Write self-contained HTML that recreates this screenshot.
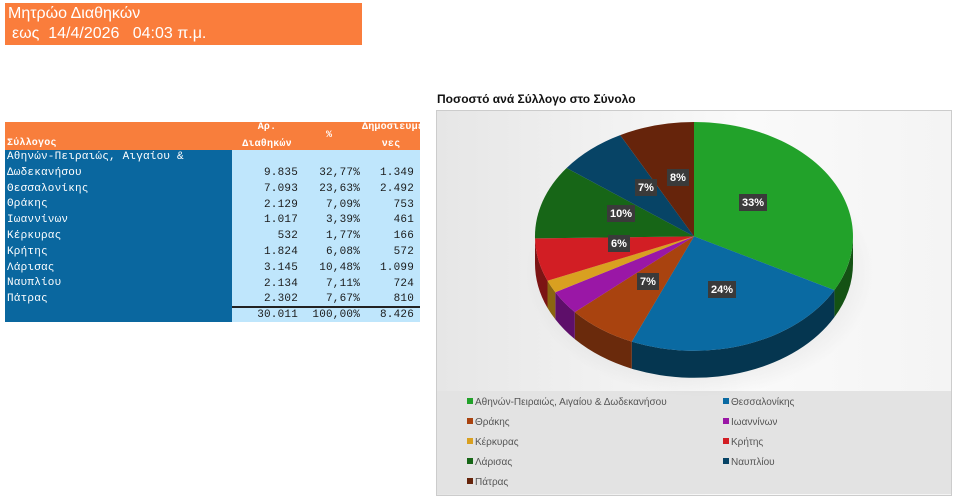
<!DOCTYPE html>
<html><head><meta charset="utf-8"><style>
body{margin:0;width:960px;height:503px;background:#fff;position:relative;overflow:hidden;font-family:"Liberation Sans",sans-serif}
.hdr{position:absolute;left:5px;top:3px;width:357px;height:42px;background:#fa7d3c;color:#fff;font-size:16px;line-height:20px}
.t{position:absolute;font-family:"Liberation Mono",monospace;font-size:11px;color:#1a1a1a;white-space:pre;letter-spacing:0.2px}
.w{color:#fff}
.h{color:#fff;font-weight:bold;font-size:10px;line-height:17px}
</style></head><body>
<div class="hdr"><div style="padding-left:3px;margin-top:1px">Μητρώο Διαθηκών</div><div style="padding-left:7px">εως&nbsp; 14/4/2026&nbsp;&nbsp; 04:03 π.μ.</div></div>

<div style="position:absolute;left:5px;top:122px;width:415px;height:28px;background:#f87e3c"></div>
<div style="position:absolute;left:5px;top:150px;width:227px;height:172px;background:#0a679f"></div>
<div style="position:absolute;left:232px;top:150px;width:188px;height:172px;background:#bfe6fc"></div>
<div style="position:absolute;left:232px;top:306px;width:188px;height:2px;background:#222"></div>
<div class="t h" style="left:7px;top:135px">Σύλλογος</div>
<div class="t h" style="left:236px;top:119px;width:62px;text-align:center">Αρ.
Διαθηκών</div>
<div class="t h" style="left:326px;top:127px">%</div>
<div class="t h" style="left:362px;top:119px;width:58px;text-align:center">Δημοσιευμέ
νες</div>
<div class="t w" style="left:7px;top:150px;line-height:15.8px">Αθηνών-Πειραιώς, Αιγαίου &amp;
Δωδεκανήσου
Θεσσαλονίκης
Θράκης
Ιωαννίνων
Κέρκυρας
Κρήτης
Λάρισας
Ναυπλίου
Πάτρας</div>
<div class="t" style="left:232px;top:166px;width:66px;text-align:right;line-height:15.8px">9.835
7.093
2.129
1.017
532
1.824
3.145
2.134
2.302
30.011</div>
<div class="t" style="left:298px;top:166px;width:62px;text-align:right;line-height:15.8px">32,77%
23,63%
7,09%
3,39%
1,77%
6,08%
10,48%
7,11%
7,67%
100,00%</div>
<div class="t" style="left:360px;top:166px;width:54px;text-align:right;line-height:15.8px">1.349
2.492
753
461
166
572
1.099
724
810
8.426</div>

<div style="position:absolute;left:437px;top:92px;width:200px;font-size:12px;font-weight:bold;color:#111">Ποσοστό ανά Σύλλογο στο Σύνολο</div>
<div style="position:absolute;left:436px;top:110px;width:514px;height:384px;border:1px solid #ccc;background:linear-gradient(90deg,#e6e6e6,#fafafa 60%,#f4f4f4)"></div>
<div style="position:absolute;left:437px;top:391px;width:514px;height:103px;background:#e3e3e3"></div>
<svg style="position:absolute;left:0;top:0" width="960" height="503">
<defs><radialGradient id="sh"><stop offset="0" stop-color="#000" stop-opacity=".25"/><stop offset="1" stop-color="#000" stop-opacity="0"/></radialGradient></defs>
<ellipse cx="700" cy="272" rx="175" ry="125" fill="url(#sh)"/>
<g transform="translate(0,122) scale(1,1.04) translate(0,-122)">
<g>
<path d="M853,232 A159,110 0 0 1 834.4,283.6 L834.4,309.6 A159,110 0 0 0 853,258Z" fill="#145214"/>
<path d="M834.4,283.6 A159,110 0 0 1 631.8,333.2 L631.8,359.2 A159,110 0 0 0 834.4,309.6Z" fill="#053650"/>
<path d="M631.8,333.2 A159,110 0 0 1 574.8,304.8 L574.8,330.8 A159,110 0 0 0 631.8,359.2Z" fill="#6a2a0c"/>
<path d="M574.8,304.8 A159,110 0 0 1 555.3,285.7 L555.3,311.7 A159,110 0 0 0 574.8,330.8Z" fill="#5e0f6a"/>
<path d="M555.3,285.7 A159,110 0 0 1 547.5,274.7 L547.5,300.7 A159,110 0 0 0 555.3,311.7Z" fill="#8a6510"/>
<path d="M547.5,274.7 A159,110 0 0 1 535,232 L535,258 A159,110 0 0 0 547.5,300.7Z" fill="#7c1414"/>
</g>
<g>
<path d="M694,232 L694,122 A159,110 0 0 1 834.4,283.6Z" fill="#22a22a"/>
<path d="M694,232 L834.4,283.6 A159,110 0 0 1 631.8,333.2Z" fill="#0a6aa2"/>
<path d="M694,232 L631.8,333.2 A159,110 0 0 1 574.8,304.8Z" fill="#a9430f"/>
<path d="M694,232 L574.8,304.8 A159,110 0 0 1 555.3,285.7Z" fill="#9a17a6"/>
<path d="M694,232 L555.3,285.7 A159,110 0 0 1 547.5,274.7Z" fill="#d9a020"/>
<path d="M694,232 L547.5,274.7 A159,110 0 0 1 535,233.9Z" fill="#d21e24"/>
<path d="M694,232 L535,233.9 A159,110 0 0 1 566.6,166.2Z" fill="#176617"/>
<path d="M694,232 L566.6,166.2 A159,110 0 0 1 620.2,134.6Z" fill="#074466"/>
<path d="M694,232 L620.2,134.6 A159,110 0 0 1 694,122Z" fill="#66240b"/>
</g>
</g>
<g font-family="Liberation Sans" font-size="11" font-weight="bold" fill="#fff" text-anchor="middle">
<rect x="739" y="194" width="28" height="17" fill="#3a3a3a"/><text x="753" y="206">33%</text>
<rect x="708" y="281" width="28" height="17" fill="#3a3a3a"/><text x="722" y="293">24%</text>
<rect x="637" y="273" width="22" height="17" fill="#3a3a3a"/><text x="648" y="285">7%</text>
<rect x="608" y="235" width="22" height="17" fill="#3a3a3a"/><text x="619" y="247">6%</text>
<rect x="607" y="205" width="28" height="17" fill="#3a3a3a"/><text x="621" y="217">10%</text>
<rect x="635" y="179" width="22" height="17" fill="#3a3a3a"/><text x="646" y="191">7%</text>
<rect x="667" y="169" width="22" height="17" fill="#3a3a3a"/><text x="678" y="181">8%</text>
</g>
<g font-family="Liberation Sans" font-size="10" fill="#555">
<rect x="467" y="398" width="6" height="6" fill="#22a22a"/><text x="475" y="405">Αθηνών-Πειραιώς, Αιγαίου &amp; Δωδεκανήσου</text>
<rect x="723" y="398" width="6" height="6" fill="#0a6aa2"/><text x="731" y="405">Θεσσαλονίκης</text>
<rect x="467" y="418" width="6" height="6" fill="#a9430f"/><text x="475" y="425">Θράκης</text>
<rect x="723" y="418" width="6" height="6" fill="#9a17a6"/><text x="731" y="425">Ιωαννίνων</text>
<rect x="467" y="438" width="6" height="6" fill="#d9a020"/><text x="475" y="445">Κέρκυρας</text>
<rect x="723" y="438" width="6" height="6" fill="#d21e24"/><text x="731" y="445">Κρήτης</text>
<rect x="467" y="458" width="6" height="6" fill="#176617"/><text x="475" y="465">Λάρισας</text>
<rect x="723" y="458" width="6" height="6" fill="#074466"/><text x="731" y="465">Ναυπλίου</text>
<rect x="467" y="478" width="6" height="6" fill="#66240b"/><text x="475" y="485">Πάτρας</text>
</g>
</svg>
</body></html>
